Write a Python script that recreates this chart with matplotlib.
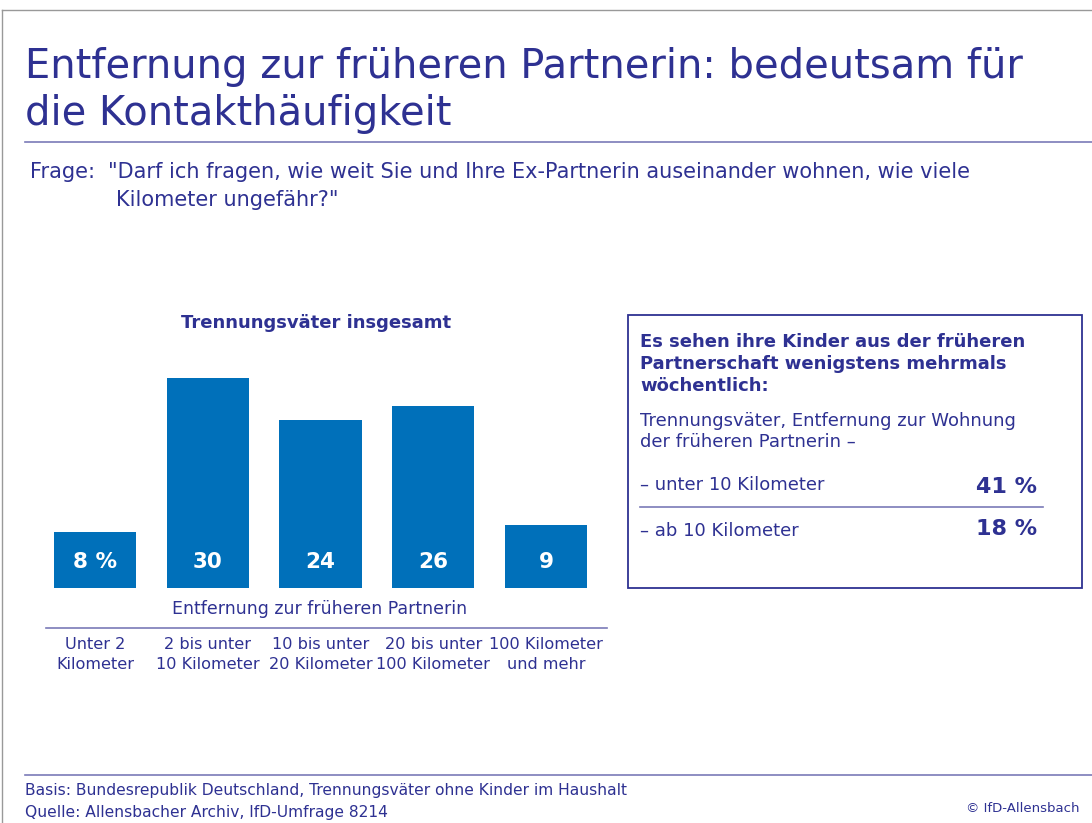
import matplotlib
matplotlib.use("Agg")
import matplotlib.pyplot as plt
from matplotlib.lines import Line2D
from matplotlib.patches import Rectangle

# data
categories = ["Unter 2\nKilometer", "2 bis unter\n10 Kilometer", "10 bis unter\n20 Kilometer",
              "20 bis unter\n100 Kilometer", "100 Kilometer\nund mehr"]
values = [8, 30, 24, 26, 9]
value_labels = ["8 %", "30", "24", "26", "9"]

box_rows = ["– unter 10 Kilometer", "– ab 10 Kilometer"]
box_values = ["41 %", "18 %"]

W, H = 1092, 823
DARK = "#2E3192"
BAR = "#0070BA"
RULE = "#7A7AB8"

plt.rcParams['font.family'] = ['DejaVu Sans']


def fx(px):
    return px / W


def fy(py):
    return 1 - py / H


def hline(fig, x0, x1, y, color=RULE, lw=1.2):
    fig.add_artist(Line2D([fx(x0), fx(x1)], [fy(y), fy(y)], color=color, lw=lw))


fig = plt.figure(figsize=(W / 100, H / 100), dpi=100)

# outer frame (top and left)
fig.add_artist(Line2D([fx(2), fx(W)], [fy(10), fy(10)], color="#999999", lw=1))
fig.add_artist(Line2D([fx(2), fx(2)], [fy(10), fy(H)], color="#999999", lw=1))

# title
fig.text(fx(25), fy(78), "Entfernung zur früheren Partnerin: bedeutsam für",
         color=DARK, fontsize=28.8, va="baseline")
fig.text(fx(25), fy(125), "die Kontakthäufigkeit", color=DARK, fontsize=28.8, va="baseline")
hline(fig, 25, W, 142)

# question
fig.text(fx(30), fy(178), "Frage:", color=DARK, fontsize=15, va="baseline")
fig.text(fx(108), fy(178), "\"Darf ich fragen, wie weit Sie und Ihre Ex-Partnerin auseinander wohnen, wie viele",
         color=DARK, fontsize=15, va="baseline")
fig.text(fx(116), fy(206), "Kilometer ungefähr?\"", color=DARK, fontsize=15, va="baseline")

# bar chart
left, right, bottom, top = 46, 607, 588, 300
ax = fig.add_axes([fx(left), fy(bottom), fx(right) - fx(left), fy(top) - fy(bottom)])
x = range(len(values))
ax.bar(x, values, width=0.728, color=BAR)
spacing = (546 - 95) / 4
ax.set_xlim((left - 95) / spacing, (right - 95) / spacing)
ax.set_ylim(0, (bottom - top) / 7)
ax.axis("off")
for i, lab in enumerate(value_labels):
    ax.text(i, 26 / 7, lab, color="white", fontsize=15.5, fontweight="bold",
            ha="center", va="center")

fig.text(fx(316), fy(323), "Trennungsväter insgesamt", color=DARK, fontsize=13,
         fontweight="bold", ha="center", va="center")
fig.text(fx(320), fy(609), "Entfernung zur früheren Partnerin", color=DARK, fontsize=12.5,
         ha="center", va="center")
hline(fig, 46, 607, 628)
for i, cat in enumerate(categories):
    fig.text(fx(95 + i * spacing), fy(637), cat, color=DARK, fontsize=11.6,
             ha="center", va="top", linespacing=1.45)

# right box
fig.add_artist(Rectangle((fx(628), fy(588)), fx(1082) - fx(628), fy(315) - fy(588),
                         fill=False, edgecolor=DARK, lw=1.3))
fig.text(fx(640), fy(333), "Es sehen ihre Kinder aus der früheren\nPartnerschaft wenigstens mehrmals\nwöchentlich:",
         color=DARK, fontsize=13, fontweight="bold", va="top", linespacing=1.3)
fig.text(fx(640), fy(412), "Trennungsväter, Entfernung zur Wohnung\nder früheren Partnerin –",
         color=DARK, fontsize=13, va="top", linespacing=1.2)
fig.text(fx(640), fy(485), box_rows[0], color=DARK, fontsize=13, va="center")
fig.text(fx(1037), fy(487), box_values[0], color=DARK, fontsize=16, fontweight="bold",
         ha="right", va="center")
hline(fig, 640, 1043, 507)
fig.text(fx(640), fy(531), box_rows[1], color=DARK, fontsize=13, va="center")
fig.text(fx(1037), fy(529), box_values[1], color=DARK, fontsize=16, fontweight="bold",
         ha="right", va="center")

# footer
hline(fig, 25, W, 775)
fig.text(fx(25), fy(791), "Basis: Bundesrepublik Deutschland, Trennungsväter ohne Kinder im Haushalt",
         color=DARK, fontsize=11.2, va="center")
fig.text(fx(25), fy(813), "Quelle: Allensbacher Archiv, IfD-Umfrage 8214",
         color=DARK, fontsize=11.2, va="center")
fig.text(fx(1080), fy(808), "© IfD-Allensbach", color=DARK, fontsize=9.5,
         ha="right", va="center")

fig.savefig("out.png", dpi=100)
